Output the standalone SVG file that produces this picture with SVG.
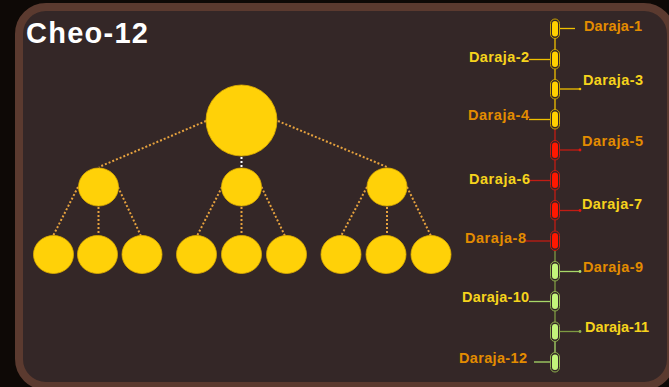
<svg xmlns="http://www.w3.org/2000/svg" width="669" height="387" viewBox="0 0 669 387">
<defs>
<style>
.lbl{font-family:"Liberation Sans",Arial,sans-serif;font-weight:700;font-size:14.5px}
.or{fill:#e38c00}
.ye{fill:#f6d31c}
.dot{stroke:#e6a23e;stroke-width:2;stroke-dasharray:2 2;fill:none}
.node{fill:#ffd108;stroke:#e0b000;stroke-width:0.8}
.cy{fill:#ffd000}
.cyo{fill:none;stroke:#c9a200;stroke-width:1}
.cr{fill:#ff1800}
.cro{fill:none;stroke:#c41c12;stroke-width:1}
.cg{fill:#c3f57b}
.cgo{fill:none;stroke:#8fb24e;stroke-width:1}
.ly{stroke:#f0c000;stroke-width:1.3;fill:none}
.lr{stroke:#c21c14;stroke-width:1.3;fill:none}
.lg{stroke:#a8d868;stroke-width:1.3;fill:none}
.lo{stroke:#7d9a42;stroke-width:1.3;fill:none}
</style>
</defs>
<rect x="0" y="0" width="669" height="387" fill="#0e0906"/>
<rect x="19" y="7" width="652" height="379" rx="27" fill="#342727" stroke="#5b3a2f" stroke-width="8"/>
<text x="26" y="43" font-family="Liberation Sans,Arial,sans-serif" font-weight="700" font-size="29" fill="#ffffff" textLength="122">Cheo-12</text>

<g id="connectors">
<line class="dot" x1="206" y1="121" x2="99" y2="167"/>
<line class="dot" x1="278" y1="121" x2="387" y2="167"/>
<line x1="241.5" y1="157" x2="241.5" y2="167" stroke="#ffffff" stroke-width="2" stroke-dasharray="2 2"/>
<line class="dot" x1="78" y1="187" x2="53" y2="236"/>
<line class="dot" x1="98.5" y1="207" x2="98.5" y2="235"/>
<line class="dot" x1="118" y1="187" x2="141" y2="236"/>
<line class="dot" x1="222" y1="187" x2="197" y2="236"/>
<line class="dot" x1="241.5" y1="207" x2="241.5" y2="235"/>
<line class="dot" x1="261.5" y1="187" x2="285" y2="236"/>
<line class="dot" x1="367" y1="187" x2="341" y2="236"/>
<line class="dot" x1="387" y1="207" x2="387" y2="235"/>
<line class="dot" x1="407" y1="187" x2="431" y2="236"/>
<!-- ladder -->
<line class="ly" x1="555" y1="38" x2="555" y2="50"/>
<line class="ly" x1="555" y1="69" x2="555" y2="80"/>
<line class="ly" x1="555" y1="99" x2="555" y2="110"/>
<line class="lr" x1="555" y1="129" x2="555" y2="141"/>
<line class="lr" x1="555" y1="160" x2="555" y2="171"/>
<line class="lr" x1="555" y1="190" x2="555" y2="201"/>
<line class="lr" x1="555" y1="220" x2="555" y2="231"/>
<line class="lo" x1="555" y1="251" x2="555" y2="262"/>
<line class="lo" x1="555" y1="281" x2="555" y2="292"/>
<line class="lo" x1="555" y1="311" x2="555" y2="322"/>
<line class="lg" x1="555" y1="342" x2="555" y2="352"/>
<polyline class="ly" points="560,28.5 575,28.5"/>
<polyline class="ly" points="529,59.5 550,59.5"/>
<polyline class="ly" points="560,89 580,89"/>
<circle cx="580" cy="89" r="1.3" fill="#f0c000"/>
<polyline class="ly" points="529,119.5 550,119.5"/>
<polyline class="lr" points="560,150 580,150"/>
<circle cx="580" cy="150" r="1.4" fill="#e01810"/>
<polyline class="lr" points="529,180.5 550,180.5"/>
<polyline class="lr" points="560,210.5 580,210.5"/>
<circle cx="580" cy="210.5" r="1.4" fill="#e01810"/>
<polyline class="lr" points="526,241 550,241"/>
<polyline class="lg" points="560,271.5 580,271.5"/>
<circle cx="580" cy="271.5" r="1.4" fill="#b0e070"/>
<polyline class="lg" points="529,301.5 550,301.5"/>
<polyline class="lo" points="560,331.5 580,331.5"/>
<circle cx="580" cy="331.5" r="1.4" fill="#90b050"/>
<polyline class="lg" points="534,362 550,362"/>
</g>

<g id="root"><circle class="node" cx="241.5" cy="120.5" r="35.5"/></g>
<g id="mid-1"><ellipse class="node" cx="98.5" cy="187" rx="20" ry="19"/></g>
<g id="mid-2"><ellipse class="node" cx="241.5" cy="187" rx="20" ry="19"/></g>
<g id="mid-3"><ellipse class="node" cx="387" cy="187" rx="20" ry="19"/></g>
<g id="leaf-1"><ellipse class="node" cx="53.5" cy="254.5" rx="20" ry="19"/></g>
<g id="leaf-2"><ellipse class="node" cx="97.5" cy="254.5" rx="20" ry="19"/></g>
<g id="leaf-3"><ellipse class="node" cx="142" cy="254.5" rx="20" ry="19"/></g>
<g id="leaf-4"><ellipse class="node" cx="196.5" cy="254.5" rx="20" ry="19"/></g>
<g id="leaf-5"><ellipse class="node" cx="241.5" cy="254.5" rx="20" ry="19"/></g>
<g id="leaf-6"><ellipse class="node" cx="286.5" cy="254.5" rx="20" ry="19"/></g>
<g id="leaf-7"><ellipse class="node" cx="341" cy="254.5" rx="20" ry="19"/></g>
<g id="leaf-8"><ellipse class="node" cx="386" cy="254.5" rx="20" ry="19"/></g>
<g id="leaf-9"><ellipse class="node" cx="431" cy="254.5" rx="20" ry="19"/></g>

<g id="daraja-1"><rect class="cyo" x="550.5" y="19" width="9" height="19.5" rx="4.5"/><rect class="cy" x="552" y="21" width="6" height="15.5" rx="3"/><text class="lbl or" x="584" y="30.5" textLength="58">Daraja-1</text></g>
<g id="daraja-2"><rect class="cyo" x="550.5" y="49.5" width="9" height="19.5" rx="4.5"/><rect class="cy" x="552" y="51.5" width="6" height="15.5" rx="3"/><text class="lbl ye" x="469" y="61.5" textLength="60">Daraja-2</text></g>
<g id="daraja-3"><rect class="cyo" x="550.5" y="79.5" width="9" height="19.5" rx="4.5"/><rect class="cy" x="552" y="81.5" width="6" height="15.5" rx="3"/><text class="lbl ye" x="583" y="84.5" textLength="60">Daraja-3</text></g>
<g id="daraja-4"><rect class="cyo" x="550.5" y="109.5" width="9" height="19.5" rx="4.5"/><rect class="cy" x="552" y="111.5" width="6" height="15.5" rx="3"/><text class="lbl or" x="468" y="119.5" textLength="61">Daraja-4</text></g>
<g id="daraja-5"><rect class="cro" x="550.5" y="140.5" width="9" height="19.5" rx="4.5"/><rect class="cr" x="552" y="142.5" width="6" height="15.5" rx="3"/><text class="lbl or" x="582" y="145.5" textLength="61">Daraja-5</text></g>
<g id="daraja-6"><rect class="cro" x="550.5" y="170.5" width="9" height="19.5" rx="4.5"/><rect class="cr" x="552" y="172.5" width="6" height="15.5" rx="3"/><text class="lbl ye" x="469" y="183.5" textLength="61">Daraja-6</text></g>
<g id="daraja-7"><rect class="cro" x="550.5" y="200.5" width="9" height="19.5" rx="4.5"/><rect class="cr" x="552" y="202.5" width="6" height="15.5" rx="3"/><text class="lbl ye" x="582" y="208.5" textLength="60">Daraja-7</text></g>
<g id="daraja-8"><rect class="cro" x="550.5" y="231" width="9" height="19.5" rx="4.5"/><rect class="cr" x="552" y="233" width="6" height="15.5" rx="3"/><text class="lbl or" x="465" y="242.5" textLength="61">Daraja-8</text></g>
<g id="daraja-9"><rect class="cgo" x="550.5" y="261.5" width="9" height="19.5" rx="4.5"/><rect class="cg" x="552" y="263.5" width="6" height="15.5" rx="3"/><text class="lbl or" x="583" y="271.5" textLength="60">Daraja-9</text></g>
<g id="daraja-10"><rect class="cgo" x="550.5" y="291.5" width="9" height="19.5" rx="4.5"/><rect class="cg" x="552" y="293.5" width="6" height="15.5" rx="3"/><text class="lbl ye" x="462" y="301.5" textLength="67">Daraja-10</text></g>
<g id="daraja-11"><rect class="cgo" x="550.5" y="322" width="9" height="19.5" rx="4.5"/><rect class="cg" x="552" y="324" width="6" height="15.5" rx="3"/><text class="lbl ye" x="585" y="331.5" textLength="64">Daraja-11</text></g>
<g id="daraja-12"><rect class="cgo" x="550.5" y="352.5" width="9" height="19.5" rx="4.5"/><rect class="cg" x="552" y="354.5" width="6" height="15.5" rx="3"/><text class="lbl or" x="459" y="362.5" textLength="68">Daraja-12</text></g>
</svg>
